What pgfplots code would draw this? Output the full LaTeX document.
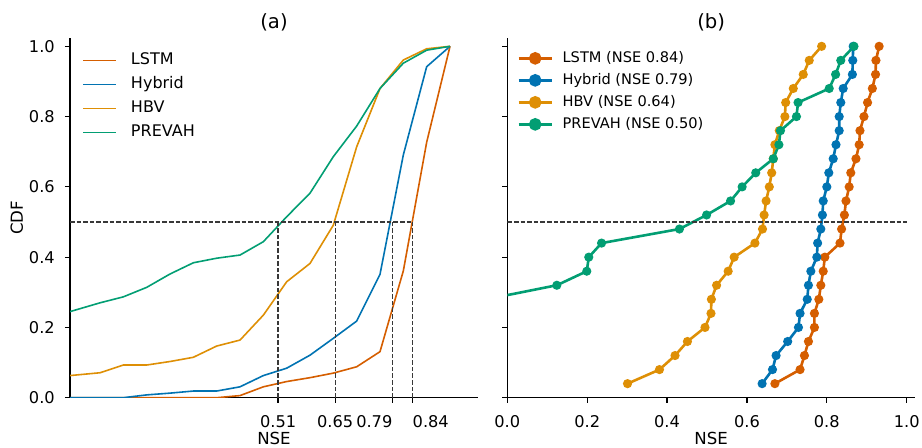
\documentclass[border=0pt]{standalone}
\usepackage{fontspec}
\setmainfont{DejaVu Sans}
\usepackage{pgfplots}
\pgfplotsset{compat=1.18}

\definecolor{clstm}{RGB}{213,94,0}
\definecolor{chyb}{RGB}{1,115,178}
\definecolor{chbv}{RGB}{222,143,5}
\definecolor{cprev}{RGB}{2,158,115}

\newcommand{\tickfont}{\fontsize{8.1}{9.5}\selectfont}
\newcommand{\labfont}{\fontsize{8.3}{10}\selectfont}
\newcommand{\titlefont}{\fontsize{9.8}{11.5}\selectfont}

\pgfplotsset{
  panel/.style={
    scale only axis, height=180pt,
    ymin=0, ymax=1.0245,
    axis x line*=bottom, axis y line*=left,
    axis line style={line width=0.6pt, black},
    tick align=outside, major tick length=2.6pt,
    every tick/.style={black, line width=0.6pt},
    tick label style={font=\tickfont},
    xticklabel style={yshift=-3pt},
    yticklabel style={xshift=-1.5pt},
    /pgf/number format/assume math mode=true,
    ytick={0,0.2,0.4,0.6,0.8,1.0},
    yticklabel style={/pgf/number format/.cd, fixed, fixed zerofill, precision=1},
    legend cell align=left,
  },
  medline/.style={forget plot, black!78, line width=0.65pt, dash pattern=on 2.3pt off 1pt},
}

\begin{document}
\begin{tikzpicture}
\path[use as bounding box] (0pt,0pt) rectangle (461pt,223.5pt);

% (a) binned CDF
\begin{axis}[panel, name=L,
  at={(35pt,24.65pt)}, anchor=south west, width=204pt,
  xmin=0, xmax=1,
  xtick={0.51,0.65,0.79,0.84},
  xticklabels={0.51,0.65,\llap{0.79},\rlap{0.84}},
  every axis plot/.append style={line width=0.8pt},
  legend image code/.code={\draw[mark repeat=2, mark phase=2, #1, line width=0.8pt]
    plot coordinates {(0pt,0pt) (8.25pt,0pt) (16.5pt,0pt)};},
  legend style={draw=none, fill=none, font=\fontsize{8}{9.5}\selectfont, inner sep=0pt,
    column sep=5.5pt, row sep=1.8pt,
    nodes={inner sep=1.5pt, text height=5.8pt, text depth=1.4pt},
    at={(rel axis cs:0.0294,0.966)}, anchor=north west},
]
\addplot[color=clstm] coordinates {
 (0,0) (0.0735,0) (0.1307,0) (0.1879,0) (0.2451,0) (0.3023,0) (0.3595,0)
 (0.4167,0.006) (0.4739,0.031) (0.5311,0.046) (0.5882,0.057) (0.6454,0.070)
 (0.7026,0.088) (0.7598,0.131) (0.8170,0.361) (0.8742,0.727) (0.9314,1.0)};
\addlegendentry{LSTM}
\addplot[color=chyb] coordinates {
 (0,0) (0.0735,0) (0.1307,0) (0.1879,0.008) (0.2451,0.013) (0.3023,0.019)
 (0.3595,0.019) (0.4167,0.031) (0.4739,0.063) (0.5311,0.084) (0.5882,0.121)
 (0.6454,0.169) (0.7026,0.218) (0.7598,0.351) (0.8170,0.691) (0.8742,0.942) (0.9314,1.0)};
\addlegendentry{Hybrid}
\addplot[color=chbv] coordinates {
 (0,0.063) (0.0735,0.071) (0.1307,0.093) (0.1879,0.093) (0.2451,0.103) (0.3023,0.115)
 (0.3595,0.147) (0.4167,0.164) (0.4739,0.235) (0.5311,0.330) (0.5882,0.382)
 (0.6454,0.491) (0.7026,0.714) (0.7598,0.880) (0.8170,0.961) (0.8742,0.993) (0.9314,1.0)};
\addlegendentry{HBV}
\addplot[color=cprev] coordinates {
 (0,0.245) (0.0735,0.270) (0.1307,0.287) (0.1879,0.314) (0.2451,0.352) (0.3023,0.384)
 (0.3595,0.397) (0.4167,0.406) (0.4739,0.444) (0.5311,0.515) (0.5882,0.582)
 (0.6454,0.686) (0.7026,0.773) (0.7598,0.880) (0.8170,0.952) (0.8742,0.989) (0.9314,1.0)};
\addlegendentry{PREVAH}
% medians
\addplot[medline] coordinates {(0,0.5) (0.84,0.5)};
\addplot[medline] coordinates {(0.51,0) (0.51,0.5)};
\addplot[medline] coordinates {(0.65,0) (0.65,0.5)};
\addplot[medline] coordinates {(0.79,0) (0.79,0.5)};
\addplot[medline] coordinates {(0.84,0) (0.84,0.5)};
\end{axis}
\node[font=\titlefont] at ([yshift=7.5pt]L.north) {(a)};
\node[rotate=90, font=\labfont] at ([xshift=-26.6pt]L.west) {CDF};
\node[font=\labfont] at ([yshift=-20.4pt]L.south) {NSE};

% (b) sorted NSE per catchment
\begin{axis}[panel, name=R,
  at={(253.65pt,24.65pt)}, anchor=south west, width=203.85pt,
  xmin=0, xmax=1.0208,
  xtick={0,0.2,0.4,0.6,0.8,1.0},
  xticklabel style={/pgf/number format/.cd, fixed, fixed zerofill, precision=1},
  yticklabels={},
  every axis plot/.append style={line width=1.3pt, mark=*, mark size=1.6pt},
  legend image code/.code={\draw[#1, mark size=2.5pt, mark repeat=2, mark phase=2]
    plot coordinates {(0pt,0pt) (8.25pt,0pt) (16.5pt,0pt)};},
  legend style={draw=none, fill=none, font=\fontsize{7.3}{8.8}\selectfont, inner sep=0pt,
    column sep=3.3pt, row sep=1.2pt,
    nodes={inner sep=1.5pt, text height=5.5pt, text depth=1.3pt},
    at={(rel axis cs:0.0238,0.971)}, anchor=north west},
]
\addplot[color=clstm, mark options={solid, fill=clstm}] coordinates {
 (0.670,0.04) (0.733,0.08) (0.744,0.12) (0.754,0.16) (0.769,0.20) (0.769,0.24)
 (0.780,0.28) (0.785,0.32) (0.791,0.36) (0.795,0.40) (0.833,0.44) (0.837,0.48)
 (0.844,0.52) (0.848,0.56) (0.856,0.60) (0.860,0.64) (0.873,0.68) (0.881,0.72)
 (0.883,0.76) (0.893,0.80) (0.902,0.84) (0.914,0.88) (0.922,0.92) (0.923,0.96) (0.931,1.00)};
\addlegendentry{LSTM (NSE 0.84)}
\addplot[color=chyb, mark options={solid, fill=chyb}] coordinates {
 (0.638,0.04) (0.664,0.08) (0.673,0.12) (0.702,0.16) (0.729,0.20) (0.733,0.24)
 (0.751,0.28) (0.754,0.32) (0.760,0.36) (0.775,0.40) (0.777,0.44) (0.785,0.48)
 (0.789,0.52) (0.791,0.56) (0.800,0.60) (0.805,0.64) (0.816,0.68) (0.823,0.72)
 (0.831,0.76) (0.831,0.80) (0.835,0.84) (0.841,0.88) (0.864,0.92) (0.865,0.96) (0.866,1.00)};
\addlegendentry{Hybrid (NSE 0.79)}
\addplot[color=chbv, mark options={solid, fill=chbv}] coordinates {
 (0.301,0.04) (0.381,0.08) (0.420,0.12) (0.451,0.16) (0.495,0.20) (0.510,0.24)
 (0.511,0.28) (0.524,0.32) (0.553,0.36) (0.568,0.40) (0.620,0.44) (0.639,0.48)
 (0.643,0.52) (0.648,0.56) (0.656,0.60) (0.662,0.64) (0.666,0.68) (0.670,0.72)
 (0.681,0.76) (0.695,0.80) (0.697,0.84) (0.716,0.88) (0.741,0.92) (0.756,0.96) (0.787,1.00)};
\addlegendentry{HBV (NSE 0.64)}
\addplot[color=cprev, mark options={solid, fill=cprev}] coordinates {
 (-0.053,0.28) (0.124,0.32) (0.199,0.36) (0.204,0.40) (0.236,0.44) (0.431,0.48)
 (0.499,0.52) (0.559,0.56) (0.588,0.60) (0.622,0.64) (0.666,0.68) (0.680,0.72)
 (0.684,0.76) (0.724,0.80) (0.728,0.84) (0.806,0.88) (0.822,0.92) (0.835,0.96) (0.868,1.00)};
\addlegendentry{PREVAH (NSE 0.50)}
\addplot[medline, mark=none] coordinates {(0,0.5) (1.0,0.5)};
\end{axis}
\node[font=\titlefont] at ([yshift=7.5pt]R.north) {(b)};
\node[font=\labfont] at ([yshift=-20.4pt]R.south) {NSE};
\end{tikzpicture}
\end{document}
